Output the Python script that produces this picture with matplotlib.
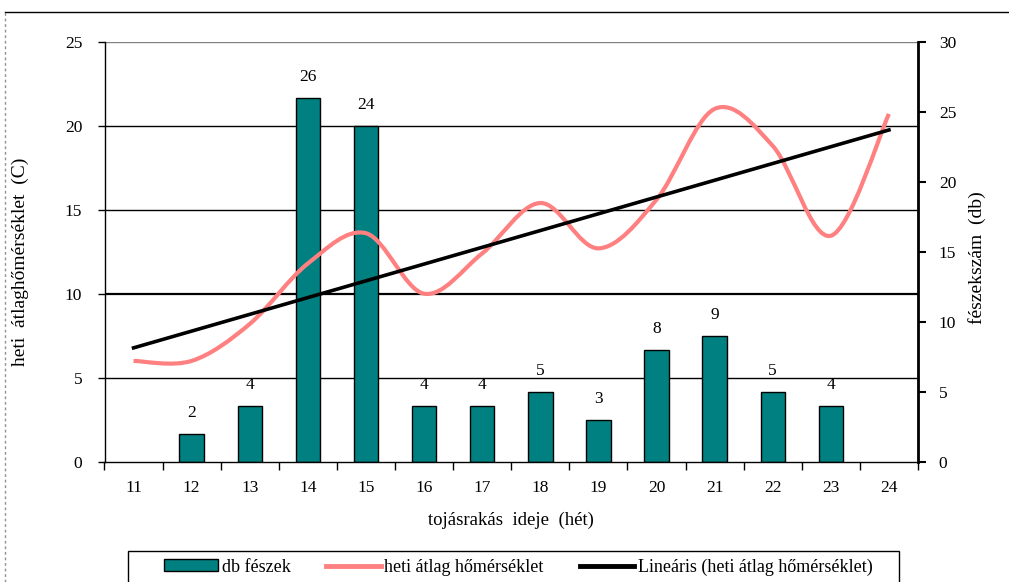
#import necessary libraries
import numpy as np
import matplotlib
matplotlib.use('Agg')
import matplotlib.pyplot as plt
from matplotlib.path import Path
from matplotlib.patches import PathPatch, Patch, Rectangle
from matplotlib.lines import Line2D

plt.rcParams['font.family'] = ['Liberation Serif', 'DejaVu Serif']

#data
weeks = ['11', '12', '13', '14', '15', '16', '17', '18', '19', '20', '21', '22', '23', '24']
nests = [0, 2, 4, 26, 24, 4, 4, 5, 3, 8, 9, 5, 4, 0]
temperature = [6.0, 6.0, 8.2, 11.8, 13.6, 10.0, 12.4, 15.4, 12.7, 15.6, 21.0, 18.8, 13.45, 20.7]
left_ticks = [0, 5, 10, 15, 20, 25]
right_ticks = [0, 5, 10, 15, 20, 25, 30]

teal = '#008080'
pink = '#FF8080'
W, H = 1009, 582

x = np.arange(len(weeks))
nests = np.array(nests)

fig = plt.figure(figsize=(W / 100, H / 100), dpi=100)
ax = fig.add_axes([104.5 / W, 1 - 461.7 / H, (918 - 104.5) / W, (461.7 - 41.7) / H])
ax2 = ax.twinx()

#bars on the right axis, below the lines
ax.set_zorder(ax2.get_zorder() + 1)
ax.patch.set_visible(False)

ax.set_ylim(0, 25)
ax2.set_ylim(0, 30)
ax.set_xlim(-0.5, len(weeks) - 0.5)

#gridlines (drawn in the bar axes so the bars cover them)
scale = 30 / 25
for t in left_ticks[1:-1]:
    ax2.axhline(t * scale, color='black', lw=1.6 if t == 10 else 1.0, zorder=0)
ax2.axhline(25 * scale, color='#808080', lw=1.0, zorder=0)

has = nests > 0
ax2.bar(x[has], nests[has], width=0.42, color=teal, edgecolor='black', linewidth=1.0, zorder=2)
for xi, n in zip(x[has], nests[has]):
    ax2.annotate(str(n), (xi, n), xytext=(0, 15), textcoords='offset points',
                 ha='center', va='center', fontsize=12.5)

#smoothed temperature line (bezier curve through the points, like excel)
pts = np.column_stack([x, temperature]).astype(float)
verts = [pts[0]]
codes = [Path.MOVETO]
for i in range(len(pts) - 1):
    p0 = pts[i - 1] if i > 0 else pts[i]
    p1 = pts[i]
    p2 = pts[i + 1]
    p3 = pts[i + 2] if i + 2 < len(pts) else pts[i + 1]
    verts += [p1 + (p2 - p0) / 6, p2 - (p3 - p1) / 6, p2]
    codes += [Path.CURVE4] * 3
ax.add_patch(PathPatch(Path(verts, codes), facecolor='none', edgecolor=pink, lw=3.0, zorder=3))

#linear trend line
m, c = np.polyfit(x, temperature, 1)
ax.plot(x, m * x + c, color='black', lw=2.6, zorder=4)

#axes styling
ax.set_yticks(left_ticks)
ax.set_yticklabels([str(t) for t in left_ticks], fontsize=12.5)
ax2.set_yticks(right_ticks)
ax2.set_yticklabels([str(t) for t in right_ticks], fontsize=12.5)
ax.tick_params(axis='y', direction='out', length=5, width=1, pad=11)
ax2.tick_params(axis='y', direction='out', length=6, width=1.5, pad=9)
ax.set_xticks(x)
ax.set_xticklabels(weeks, fontsize=12.5)
ax.set_xticks(np.arange(-0.5, len(weeks)), minor=True)
ax.tick_params(axis='x', which='major', length=0, pad=13)
ax.tick_params(axis='x', which='minor', direction='out', length=6, width=1)

for a in (ax, ax2):
    a.spines['top'].set_visible(False)
ax.spines['right'].set_visible(False)
ax2.spines['left'].set_visible(False)
ax2.spines['bottom'].set_visible(False)
ax.spines['left'].set_linewidth(1.0)
ax.spines['bottom'].set_linewidth(1.0)
ax2.spines['right'].set_linewidth(2.0)

fig.text(511 / W, 1 - 520 / H, 'tojásrakás  ideje  (hét)', ha='center', va='center', fontsize=13.5)
fig.text(20 / W, 1 - 262 / H, 'heti  átlaghőmérséklet  (C)', rotation=90,
         ha='center', va='center', fontsize=14)
fig.text(977 / W, 1 - 258 / H, 'fészekszám  (db)', rotation=90,
         ha='center', va='center', fontsize=14)

#legend
handles = [Patch(facecolor=teal, edgecolor='black'),
           Line2D([], [], color=pink, lw=3.5),
           Line2D([], [], color='black', lw=3.5)]
labels = ['db fészek', 'heti átlag hőmérséklet', 'Lineáris (heti átlag hőmérséklet)']
fig.legend(handles, labels, loc='center', ncol=3, fontsize=13,
           bbox_to_anchor=(518 / W, 1 - 567 / H), frameon=False,
           handlelength=3.0, handletextpad=0.2, columnspacing=2.0, handleheight=0.6)
fig.add_artist(Rectangle((128 / W, -0.05), (899 - 128) / W, 0.05 + 1 - 551 / H,
                         facecolor='none', edgecolor='black', lw=1.0))

#outer chart border
fig.add_artist(Line2D([5 / W, 1], [1 - 12 / H, 1 - 12 / H], color='black', lw=1.0))
fig.add_artist(Line2D([5 / W, 5 / W], [0, 1 - 12 / H], color='#909090', lw=1.0, ls=(0, (2, 2))))

fig.savefig('out.png', dpi=100)
